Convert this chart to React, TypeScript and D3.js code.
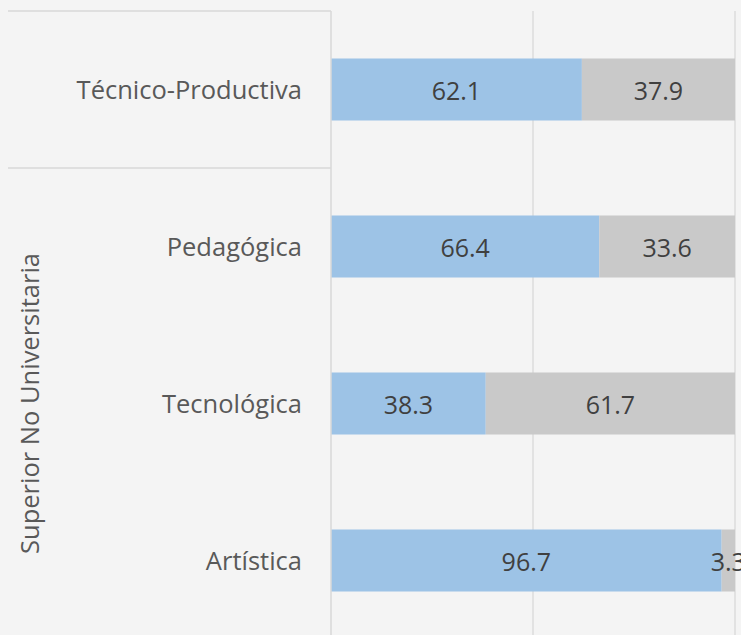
import React from "react";
import * as d3 from "d3";

const categories = ["Técnico-Productiva", "Pedagógica", "Tecnológica", "Artística"];
const seriesA = [62.1, 66.4, 38.3, 96.7];
const seriesB = [37.9, 33.6, 61.7, 3.3];
const groupLabel = "Superior No Universitaria";
const gridTicks = [0, 50, 100];

const W = 741;
const H = 635;
const FONT = "'Open Sans', 'Noto Sans', sans-serif";

export default function App() {
  const x = d3.scaleLinear().domain([0, 100]).range([331, 735]);
  const y = d3.scaleBand<string>().domain(categories).range([11, 639]).paddingInner(0.605).paddingOuter(0.3025);
  const step = y.step();
  const bw = y.bandwidth();
  const rows = categories.map((c, i) => ({ c, a: seriesA[i], b: seriesB[i] }));
  const sepY = 11 + step;
  return (
    <svg width={W} height={H} style={{ position: "absolute", left: 0, top: 0, background: "#f4f4f4" }}>
      <rect x={0} y={0} width={W} height={H} fill="#f4f4f4" />
      {gridTicks.slice(1).map((t) => (
        <line key={t} x1={x(t)} x2={x(t)} y1={11} y2={H} stroke="#d9d9d9" strokeWidth={1.3} />
      ))}
      {rows.map((r) => {
        const yy = y(r.c) as number;
        return (
          <g key={r.c}>
            <rect x={x(0)} y={yy} width={x(r.a) - x(0)} height={bw} fill="#9dc3e6" />
            <rect x={x(r.a)} y={yy} width={x(r.a + r.b) - x(r.a)} height={bw} fill="#c9c9c9" />
            <text x={(x(0) + x(r.a)) / 2} y={yy + bw / 2} dy="0.42em" textAnchor="middle" fontFamily={FONT} fontSize={25} fill="#404040">
              {r.a.toFixed(1)}
            </text>
            <text x={(x(r.a) + x(r.a + r.b)) / 2} y={yy + bw / 2} dy="0.42em" textAnchor="middle" fontFamily={FONT} fontSize={25} fill="#404040">
              {r.b.toFixed(1)}
            </text>
            <text x={302} y={yy + bw / 2} dy="0.38em" textAnchor="end" fontFamily={FONT} fontSize={25.5} fill="#595959">
              {r.c}
            </text>
          </g>
        );
      })}
      <line x1={x(0)} x2={x(0)} y1={11} y2={H} stroke="#d9d9d9" strokeWidth={1.5} />
      <line x1={8} x2={x(0)} y1={11} y2={11} stroke="#d9d9d9" strokeWidth={1.5} />
      <line x1={8} x2={x(0)} y1={sepY} y2={sepY} stroke="#d9d9d9" strokeWidth={1.5} />
      <text
        transform={`translate(39,${(sepY + 639) / 2}) rotate(-90)`}
        textAnchor="middle"
        fontFamily={FONT}
        fontSize={25.5}
        fill="#595959"
      >
        {groupLabel}
      </text>
    </svg>
  );
}
